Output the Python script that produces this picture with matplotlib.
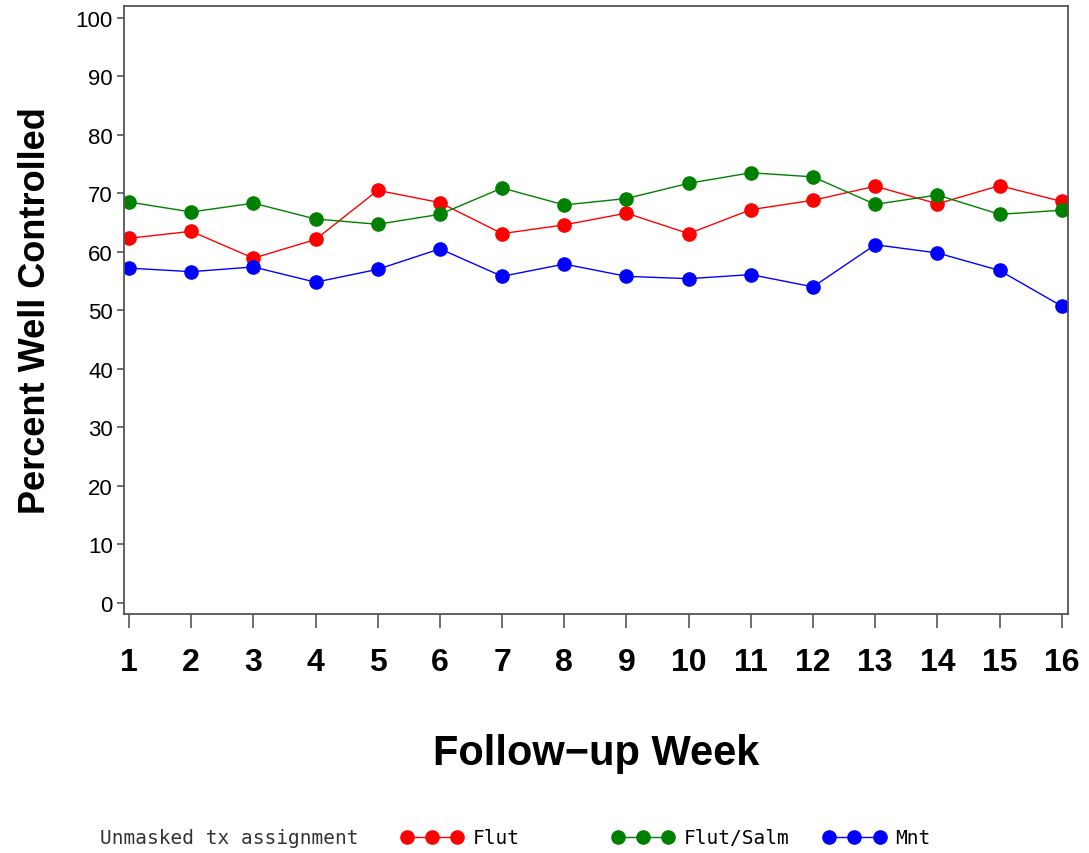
import matplotlib.pyplot as plt
from matplotlib.lines import Line2D
import numpy as np

plt.rcParams['font.family'] = ['Liberation Sans', 'DejaVu Sans']

# 数据
weeks = np.arange(1, 17)
flut = [62.3, 63.5, 58.9, 62.1, 70.5, 68.4, 63.1, 64.6,
        66.6, 63.1, 67.2, 68.8, 71.2, 68.2, 71.3, 68.6]
flut_salm = [68.5, 66.8, 68.3, 65.6, 64.7, 66.4, 70.9, 68.0,
             69.1, 71.7, 73.5, 72.8, 68.1, 69.7, 66.4, 67.1]
mnt = [57.2, 56.6, 57.4, 54.8, 57.0, 60.5, 55.8, 57.9,
       55.8, 55.4, 56.1, 54.0, 61.2, 59.8, 56.8, 50.7]
yticks = np.arange(0, 101, 10)

series = [(flut, 'Flut', '#ff0000'),
          (flut_salm, 'Flut/Salm', '#008000'),
          (mnt, 'Mnt', '#0000ff')]

fig = plt.figure(figsize=(10.89, 8.54), dpi=100)
ax = fig.add_axes([0.1139, 0.2799, 0.8668, 0.7119])

for vals, name, c in series:
    ax.plot(weeks, vals, color=c, linewidth=1, marker='o', markersize=9.5,
            markeredgecolor=c, label=name)

ax.set_xlim(0.92, 16.1)
ax.set_ylim(-1.9, 102)
ax.set_yticks(yticks)
ax.set_xticks(weeks)
ax.tick_params(axis='y', length=5, width=1.2, colors='#555555', labelcolor='black',
               labelsize=16, pad=3)
ax.tick_params(axis='x', length=10, width=1.2, colors='#555555', labelcolor='black',
               labelsize=23, pad=14)
for lbl in ax.get_xticklabels():
    lbl.set_fontweight('bold')
for s in ax.spines.values():
    s.set_linewidth(1.3)
    s.set_color('#555555')

ax.set_ylabel('Percent Well Controlled', fontsize=26, fontweight='bold', labelpad=16)
ax.set_xlabel('Follow\u2212up Week', fontsize=30, fontweight='bold', labelpad=40)

# 图例
fig.text(0.092, 0.012, 'Unmasked tx assignment', family='DejaVu Sans Mono',
         fontsize=14, color='#333333', va='baseline')
anchors = [0.352, 0.546, 0.740]
for (vals, name, c), x0 in zip(series, anchors):
    h = Line2D([], [], color=c, linewidth=1, marker='o', markersize=9.5)
    fig.legend(handles=[h], labels=[name], loc='lower left', bbox_to_anchor=(x0, -0.014),
               frameon=False, numpoints=3, handlelength=3.2, handletextpad=0.5,
               prop={'family': 'DejaVu Sans Mono', 'size': 14})

fig.savefig('out.png', dpi=100)
